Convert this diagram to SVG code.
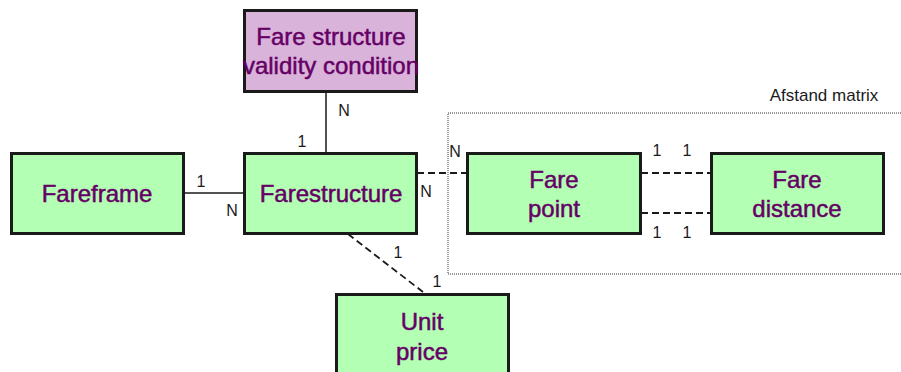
<svg xmlns="http://www.w3.org/2000/svg" width="901" height="372" viewBox="0 0 901 372">
<style>
.box{fill:#b3ffb3;stroke:#1a1a1a;stroke-width:3}
.pbox{fill:#d9b3d9;stroke:#1a1a1a;stroke-width:3}
.t{font-family:"Liberation Sans",Arial,sans-serif;font-size:24px;fill:#660066;stroke:#660066;stroke-width:0.5;text-anchor:middle}
.l{font-family:"Liberation Sans",Arial,sans-serif;font-size:16px;fill:#1a1a1a;text-anchor:middle}
.solid{stroke:#1a1a1a;stroke-width:1.5;fill:none}
.dash{stroke:#1a1a1a;stroke-width:1.8;fill:none;stroke-dasharray:7 4}
.dot{stroke:#333;stroke-width:1;fill:none;stroke-dasharray:1 1}
</style>
<rect width="901" height="372" fill="#ffffff"/>
<g id="group-afstand">
<rect class="dot" x="448" y="113" width="470" height="161"/>
<text x="824" y="101" class="l" style="font-size:17px">Afstand matrix</text>
</g>
<g id="connectors">
<line class="solid" x1="326" y1="92" x2="326" y2="153"/>
<line class="solid" x1="184" y1="193" x2="244" y2="193"/>
<line class="dash" x1="417" y1="173" x2="467" y2="173"/>
<line class="dash" x1="641" y1="173" x2="711" y2="173"/>
<line class="dash" x1="641" y1="213" x2="711" y2="213"/>
<line class="dash" x1="348" y1="234" x2="423" y2="292"/>
<text class="l" x="344" y="116">N</text>
<text class="l" x="302" y="147">1</text>
<text class="l" x="201" y="187">1</text>
<text class="l" x="232" y="216">N</text>
<text class="l" x="455" y="157">N</text>
<text class="l" x="426" y="197">N</text>
<text class="l" x="398" y="258">1</text>
<text class="l" x="437" y="287">1</text>
<text class="l" x="657" y="156">1</text>
<text class="l" x="687" y="156">1</text>
<text class="l" x="657" y="238">1</text>
<text class="l" x="687" y="238">1</text>
</g>
<g id="node-validity">
<rect class="pbox" x="244.5" y="10.5" width="172" height="81"/>
<text class="t" x="331" y="45">Fare structure</text>
<text class="t" x="331" y="74">validity condition</text>
</g>
<g id="node-fareframe">
<rect class="box" x="11.5" y="153.5" width="172" height="80"/>
<text class="t" x="97" y="202">Fareframe</text>
</g>
<g id="node-farestructure">
<rect class="box" x="244.5" y="153.5" width="172" height="80"/>
<text class="t" x="331" y="202">Farestructure</text>
</g>
<g id="node-farepoint">
<rect class="box" x="467.5" y="153.5" width="173" height="80"/>
<text class="t" x="554" y="188">Fare</text>
<text class="t" x="554" y="217">point</text>
</g>
<g id="node-faredistance">
<rect class="box" x="711.5" y="153.5" width="172" height="80"/>
<text class="t" x="797" y="188">Fare</text>
<text class="t" x="797" y="217">distance</text>
</g>
<g id="node-unitprice">
<rect class="box" x="336.5" y="294.5" width="172" height="90"/>
<text class="t" x="422" y="330">Unit</text>
<text class="t" x="422" y="360">price</text>
</g>
</svg>
